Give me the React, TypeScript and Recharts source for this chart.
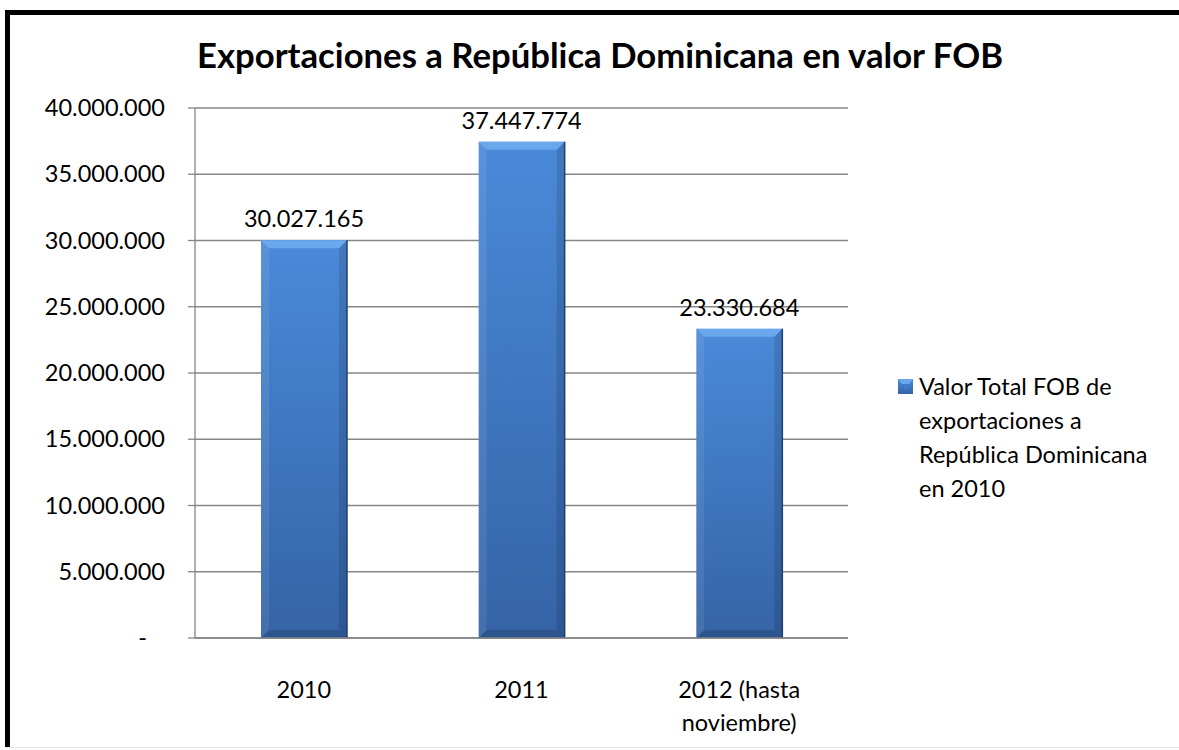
import { BarChart, Bar, XAxis, YAxis, CartesianGrid, LabelList, Legend } from "recharts";

const categories = ["2010", "2011", "2012 (hasta noviembre)"];
const fobValues = [30027165, 37447774, 23330684];
const yTicks = [0, 5000000, 10000000, 15000000, 20000000, 25000000, 30000000, 35000000, 40000000];
const edgeTicks = [0, 1, 2, 3];
const seriesName = "Valor Total FOB de exportaciones a República Dominicana en 2010";
const title = "Exportaciones a República Dominicana en valor FOB";

const chartData = categories.map((name, i) => ({ name, value: fobValues[i] }));

const FONT = "Lato, 'Open Sans', sans-serif";
const GREY = "#868686";

const fmt = (v: number) => String(Math.round(v)).replace(/\B(?=(\d{3})+(?!\d))/g, ".");

// wrap words into lines of at most n characters
const wrap = (s: string, n: number) => {
  const lines: string[] = [];
  let cur = "";
  s.split(" ").forEach((w) => {
    const next = cur ? cur + " " + w : w;
    if (next.length > n && cur) {
      lines.push(cur);
      cur = w;
    } else cur = next;
  });
  if (cur) lines.push(cur);
  return lines;
};

const YTick = ({ x, y, payload }: any) => (
  <text
    x={payload.value === 0 ? x - 18 : x}
    y={y}
    dy={8}
    textAnchor="end"
    fontFamily={FONT}
    fontSize={23.5}
    fill="#000"
  >
    {payload.value === 0 ? "-" : fmt(payload.value)}
  </text>
);

const XTick = ({ x, y, payload }: any) => (
  <text x={x} y={y} textAnchor="middle" fontFamily={FONT} fontSize={23.5} fill="#000">
    {wrap(payload.value, 11).map((line, i) => (
      <tspan key={i} x={x} dy={i === 0 ? 52 : 33}>
        {line}
      </tspan>
    ))}
  </text>
);

const BevelBar = (props: any) => {
  const { x, y, width, height, index } = props;
  if (!height || height <= 0) return null;
  const b = 8;
  const id = `barGrad-${index}`;
  return (
    <g>
      <defs>
        <linearGradient id={id} x1="0" y1="0" x2="0" y2="1">
          <stop offset="0%" stopColor="#4a8ad9" />
          <stop offset="100%" stopColor="#3563a6" />
        </linearGradient>
      </defs>
      <rect x={x} y={y} width={width} height={height} fill={`url(#${id})`} />
      <polygon
        points={`${x},${y} ${x + width},${y} ${x + width - b},${y + b} ${x + b},${y + b}`}
        fill="#6aa8ee"
      />
      <polygon
        points={`${x},${y} ${x + b},${y + b} ${x + b},${y + height - b} ${x},${y + height}`}
        fill="#ffffff"
        fillOpacity={0.08}
      />
      <polygon
        points={`${x + width},${y} ${x + width - b},${y + b} ${x + width - b},${y + height - b} ${x + width},${y + height}`}
        fill="#000000"
        fillOpacity={0.12}
      />
      <polygon
        points={`${x},${y + height} ${x + b},${y + height - b} ${x + width - b},${y + height - b} ${x + width},${y + height}`}
        fill="#000000"
        fillOpacity={0.15}
      />
      <line x1={x + width} y1={y} x2={x + width} y2={y + height} stroke="#1f3f6e" strokeWidth={1.5} />
    </g>
  );
};

const LegendContent = () => (
  <div style={{ display: "flex", alignItems: "flex-start", fontFamily: FONT, fontSize: 23.5 }}>
    <svg width={15} height={15} style={{ marginTop: 10, marginRight: 6, flex: "none" }}>
      <defs>
        <linearGradient id="legGrad" x1="0" y1="0" x2="0" y2="1">
          <stop offset="0%" stopColor="#4a8ad9" />
          <stop offset="100%" stopColor="#3563a6" />
        </linearGradient>
      </defs>
      <rect x={0} y={0} width={15} height={15} fill="url(#legGrad)" />
      <polygon points="0,0 15,0 11,5 4,5" fill="#6aa8ee" />
      <polygon points="4,5 11,5 7.5,12" fill="#3f7ccc" />
    </svg>
    <div style={{ lineHeight: "34px", color: "#000" }}>
      {wrap(seriesName, 20).map((l, i) => (
        <div key={i}>{l}</div>
      ))}
    </div>
  </div>
);

export default function App() {
  return (
    <div
      style={{
        position: "fixed",
        left: 0,
        top: 0,
        width: 1179,
        height: 750,
        background: "#fff",
        overflow: "hidden",
      }}
    >
      {/* frame: thick black top/left edge, faint bottom edge */}
      <div style={{ position: "absolute", left: 5, top: 10, width: 1174, height: 5, background: "#000" }} />
      <div style={{ position: "absolute", left: 5, top: 10, width: 5, height: 738, background: "#000" }} />
      <div style={{ position: "absolute", left: 5, top: 747, width: 1174, height: 1, background: "#e6e6e6" }} />
      <div
        style={{
          position: "absolute",
          left: 0,
          top: 34,
          width: 1200,
          textAlign: "center",
          fontFamily: FONT,
          fontWeight: 700,
          fontSize: 34.7,
          color: "#000",
          whiteSpace: "nowrap",
          zIndex: 2,
        }}
      >
        {title}
      </div>
      <div style={{ position: "absolute", left: 0, top: 0 }}>
        <BarChart
          width={1179}
          height={750}
          data={chartData}
          margin={{ top: 108, right: 331, bottom: 12, left: 15 }}
        >
          <CartesianGrid vertical={false} stroke={GREY} strokeWidth={1.3} />
          <XAxis
            xAxisId="edges"
            type="number"
            dataKey="value"
            domain={[0, 3]}
            ticks={edgeTicks}
            height={0}
            axisLine={false}
            tick={() => <g />}
            tickLine={{ stroke: GREY, strokeWidth: 1.3 }}
            tickSize={8}
            allowDataOverflow
          />
          <XAxis
            dataKey="name"
            height={100}
            axisLine={{ stroke: GREY, strokeWidth: 1.3 }}
            tickLine={false}
            tick={<XTick />}
            interval={0}
          />
          <YAxis
            width={180}
            domain={[0, 40000000]}
            ticks={yTicks}
            axisLine={{ stroke: GREY, strokeWidth: 1.3 }}
            tickLine={{ stroke: GREY, strokeWidth: 1.3 }}
            tickSize={7}
            tickMargin={23}
            tick={<YTick />}
            interval={0}
          />
          <Legend
            layout="vertical"
            align="center"
            verticalAlign="middle"
            content={<LegendContent />}
            wrapperStyle={{ left: 898, top: 369, width: 278 }}
          />
          <Bar dataKey="value" name={seriesName} barSize={86} shape={<BevelBar />} isAnimationActive={false}>
            <LabelList
              dataKey="value"
              position="top"
              offset={13}
              formatter={(v: any) => fmt(Number(v))}
              style={{ fontFamily: FONT, fontSize: 23.5, fill: "#000" }}
            />
          </Bar>
        </BarChart>
      </div>
    </div>
  );
}
